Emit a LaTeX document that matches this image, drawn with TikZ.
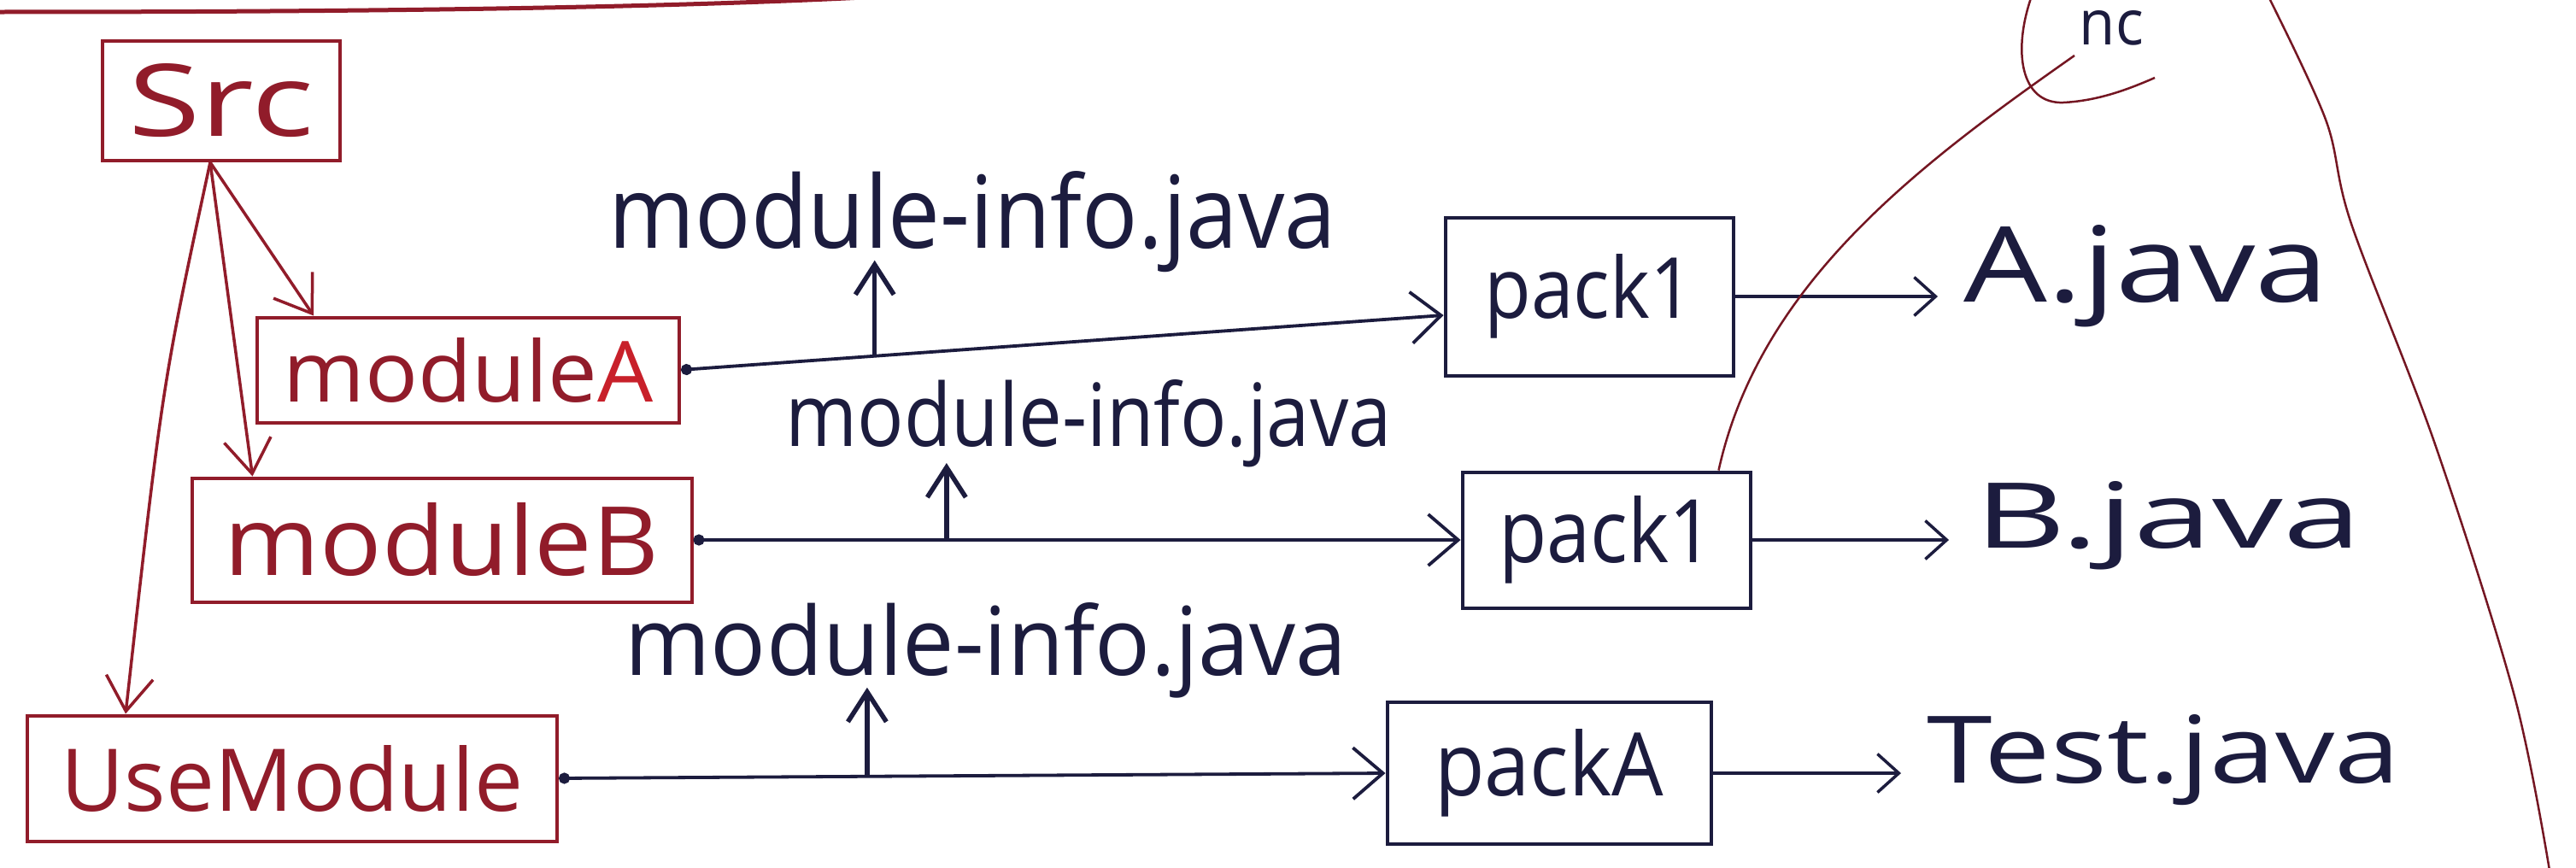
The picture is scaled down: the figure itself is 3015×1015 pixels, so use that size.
\documentclass[tikz,border=0pt]{standalone}
\usepackage{fontspec}
\usepackage{graphicx}
\setmainfont{Open Sans}
\usetikzlibrary{arrows.meta,calc}

\definecolor{maroon}{RGB}{145,28,42}
\definecolor{brightred}{RGB}{200,32,42}
\definecolor{ink}{RGB}{28,28,62}

% text squeezed into a given width and height
\newcommand{\fitw}[3]{\resizebox{#1}{#2}{#3}}

\begin{document}
\begin{tikzpicture}[x=0.1mm,y=-0.1mm,
  redbox/.style={draw=maroon,line width=0.4mm,inner sep=0pt,text=maroon},
  packbox/.style={draw=ink,line width=0.4mm,inner sep=0pt,text=ink},
  redarrow/.style={draw=maroon,line width=0.35mm,-{Straight Barb[length=4mm,width=5.5mm]}},
  inkarrow/.style={draw=ink,line width=0.38mm,{Circle[length=1.3mm]}-{Straight Barb[length=3.5mm,width=6mm]}},
  uparrow/.style={draw=ink,line width=0.55mm,-{Straight Barb[length=3.5mm,width=4.5mm]}},
  filearrow/.style={draw=ink,line width=0.35mm,-{Straight Barb[length=2.5mm,width=4.5mm]},shorten >=3mm},
  infotext/.style={text=ink,inner sep=0pt,anchor=base west},
  annot/.style={draw=maroon!80!black,line width=0.25mm}
]
\fill[white] (0,0) rectangle (3015,1015);
\useasboundingbox (0,0) rectangle (3015,1015);

% ruled line along the top of the page
\draw[maroon,line width=0.5mm] (0,14) .. controls (400,14) and (750,10) .. (1010,-3);

% source tree (red)
\node[redbox,minimum width=27.8mm,minimum height=14mm] (src) at (259,118) {\fitw{21.7mm}{8.5mm}{Src}};
\node[redbox,minimum width=49.4mm,minimum height=12.3mm] (moduleA) at (548,433) {\fitw{43.3mm}{7.5mm}{module\textcolor{brightred}{A}}};
\node[redbox,minimum width=58.5mm,minimum height=14.5mm] (moduleB) at (517,632) {\fitw{50.8mm}{8.5mm}{moduleB}};
\node[redbox,minimum width=62mm,minimum height=14.7mm] (usemod) at (342,911) {\fitw{54mm}{7.7mm}{UseModule}};

\draw[redarrow] ($(src.south)+(-13,0)$) -- ($(moduleA.north west)+(68,0)$);
\draw[redarrow] ($(src.south)+(-13,0)$) -- ($(moduleB.north west)+(73,0)$);
\draw[redarrow] ($(src.south)+(-13,0)$) .. controls (190,450) .. ($(usemod.north west)+(117,0)$);

% packages
\node[packbox,minimum width=33.7mm,minimum height=18.5mm] (pack1A) at (1860,347) {\fitw{24.5mm}{7.5mm}{pack1}};
\node[packbox,minimum width=33.7mm,minimum height=15.9mm] (pack1B) at (1880,632) {\fitw{25.2mm}{7.8mm}{pack1}};
\node[packbox,minimum width=37.9mm,minimum height=16.6mm] (packA) at (1813,905) {\fitw{26.8mm}{7.8mm}{packA}};

% module descriptors
\node[infotext] (info1) at (712,290) {\fitw{85.1mm}{9mm}{module-info.java}};
\node[infotext] (info2) at (919,522) {\fitw{70.9mm}{7.8mm}{module-info.java}};
\node[infotext] (info3) at (731,790) {\fitw{84.5mm}{8.5mm}{module-info.java}};

% source files
\node[infotext] (Ajava) at (2298,353) {\fitw{42.7mm}{9mm}{A.java}};
\node[infotext] (Bjava) at (2311,641) {\fitw{45.2mm}{7.8mm}{B.java}};
\node[infotext] (Tjava) at (2255,916) {\fitw{55.4mm}{8mm}{Test.java}};

% module -> package links
\draw[inkarrow] (moduleA.east) -- coordinate[pos=0.254] (m1) ($(pack1A.west)+(0,22)$);
\draw[inkarrow] (moduleB.east) -- coordinate[pos=0.33] (m2) (pack1B.west);
\draw[inkarrow] (usemod.east) -- coordinate[pos=0.373] (m3) (packA.west);

\draw[uparrow] (m1) -- ++(0,-112);
\draw[uparrow] (m2) -- ++(0,-90);
\draw[uparrow] (m3) -- ++(0,-104);

% package -> file links
\draw[filearrow] (pack1A.east) -- (pack1A.east -| Ajava.west);
\draw[filearrow] (pack1B.east) -- (pack1B.east -| Bjava.west);
\draw[filearrow] (packA.east) -- (packA.east -| Tjava.west);

% side note
\draw[annot] ($(pack1B.north east)+(-39,0)$) .. controls (2060,330) and (2250,190) .. (2428,65);
\draw[annot] (2378,-5) .. controls (2355,60) and (2365,122) .. (2415,120) .. controls (2455,118) and (2490,105) .. (2522,91);
\node[infotext] (nc) at (2433,52) {\fitw{7.5mm}{4mm}{nc}};
\draw[annot] plot[smooth,tension=0.55] coordinates {(2652,-10) (2722,140) (2752,262) (2850,520) (2943,815) (2985,1025)};
\end{tikzpicture}
\end{document}
